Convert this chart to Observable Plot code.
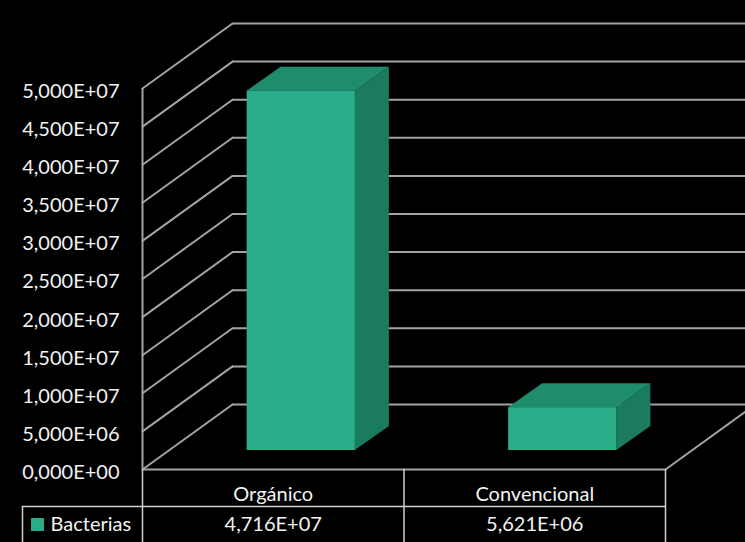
<!DOCTYPE html>
<html>
<head>
<meta charset="utf-8">
<script src="https://cdn.jsdelivr.net/npm/d3@7"></script>
<script src="https://cdn.jsdelivr.net/npm/@observablehq/plot@0.6"></script>
<style>
  html, body { margin: 0; padding: 0; background: #000; }
  #chart { width: 745px; height: 542px; overflow: hidden; }
</style>
</head>
<body>
<div id="chart"></div>
<script>
// ---- data ----
const categories = ["Orgánico", "Convencional"];
const seriesName = "Bacterias";
const values = [4.716e7, 5.621e6];
const valueLabels = ["4,716E+07", "5,621E+06"];
const yTicks = [0, 5e6, 1e7, 1.5e7, 2e7, 2.5e7, 3e7, 3.5e7, 4e7, 4.5e7, 5e7];
const yTickLabels = ["0,000E+00", "5,000E+06", "1,000E+07", "1,500E+07", "2,000E+07",
  "2,500E+07", "3,000E+07", "3,500E+07", "4,000E+07", "4,500E+07", "5,000E+07"];

const rows = categories.map((c, i) => ({cat: c, idx: i, value: values[i], label: valueLabels[i]}));

// ---- style ----
const FRONT = "#2aae8a", TOP = "#1f8c6d", SIDE = "#1b7b5f";
const GRID = "#a3a3a3", TABLE = "#d2d2d2", TEXT = "#f2f2f2";
const WALL_DX = 90, WALL_DY = -65;              // depth of the 3D walls (px)
const WALL_LEN = Math.hypot(WALL_DX, WALL_DY);
const WALL_ROT = Math.atan2(WALL_DX, -WALL_DY) * 180 / Math.PI;
const BAR_DX = 28, BAR_DY = -19;                 // bar placed inside depth
const BAR_DEPTH_X = 34, BAR_DEPTH_Y = -24;        // bar thickness
const BAR_HALF = 0.207;                           // half bar width in band units
const FONT = "Lato, 'Open Sans', sans-serif";
const FS = 20;
const GW = 2;

const lineShape = {draw(ctx, l) { ctx.moveTo(0, 0); ctx.lineTo(0, -l); }};

function bar3d(index, scales, vals, dims, context, next) {
  const g = next(index, scales, vals, dims, context);
  const sel = d3.select(g);
  for (const i of index) {
    const l = Math.min(vals.x1[i], vals.x2[i]), r = Math.max(vals.x1[i], vals.x2[i]);
    const t = Math.min(vals.y1[i], vals.y2[i]), b = Math.max(vals.y1[i], vals.y2[i]);
    const pts = (a) => a.map(p => p.join(",")).join(" ");
    sel.insert("polygon", ":first-child")
      .attr("fill", TOP)
      .attr("points", pts([[l, t], [r, t], [r + BAR_DEPTH_X, t + BAR_DEPTH_Y], [l + BAR_DEPTH_X, t + BAR_DEPTH_Y]]));
    sel.insert("polygon", ":first-child")
      .attr("fill", SIDE)
      .attr("points", pts([[r, t], [r + BAR_DEPTH_X, t + BAR_DEPTH_Y], [r + BAR_DEPTH_X, b + BAR_DEPTH_Y], [r, b]]));
  }
  return g;
}

const plot = Plot.plot({
  width: 745,
  height: 542,
  marginLeft: 142,
  marginRight: 80,
  marginTop: 88,
  marginBottom: 73,
  style: {background: "#000", fontFamily: FONT, fontSize: FS + "px", color: TEXT},
  x: {type: "linear", domain: [0, 2], axis: null},
  y: {type: "linear", domain: [0, 5e7], axis: null},
  marks: [
    // back wall gridlines
    Plot.ruleY(yTicks, {y: d => d, x1: 0, x2: 2.6, dx: WALL_DX, dy: WALL_DY, stroke: GRID, strokeWidth: GW}),
    // side wall diagonals
    Plot.vector(yTicks, {x: 0, y: d => d, length: WALL_LEN, rotate: WALL_ROT, anchor: "start",
      shape: lineShape, stroke: GRID, strokeWidth: GW}),
    // floor right diagonal
    Plot.vector([0], {x: 2, y: 0, length: WALL_LEN, rotate: WALL_ROT, anchor: "start",
      shape: lineShape, stroke: GRID, strokeWidth: GW}),
    // front-left vertical axis edge
    Plot.ruleX([0], {x: 0, y1: 0, y2: 5e7, stroke: GRID, strokeWidth: GW}),
    // floor front edge / table top
    Plot.ruleY([0], {y: 0, x1: 0, x2: 2, stroke: GRID, strokeWidth: 2.2}),
    // bars (front face + top + side)
    Plot.rect(rows, {x1: d => d.idx + 0.5 - BAR_HALF, x2: d => d.idx + 0.5 + BAR_HALF, y1: 0, y2: "value",
      fill: FRONT, dx: BAR_DX, dy: BAR_DY, render: bar3d}),
    // y tick labels
    Plot.text(yTicks, {x: 0, y: d => d, text: (d, i) => yTickLabels[i], textAnchor: "end", dx: -23, dy: 3,
      fill: TEXT, fontSize: FS}),
    // table vertical lines
    Plot.vector([0, 1, 2], {x: d => d, y: 0, length: 74, rotate: 180, anchor: "start",
      shape: lineShape, stroke: TABLE, strokeWidth: 1.5}),
    // table horizontal line
    Plot.vector([0], {x: 2, y: 0, dy: 37, length: 643, rotate: -90, anchor: "start",
      shape: lineShape, stroke: TABLE, strokeWidth: 1.5}),
    // table left border
    Plot.vector([0], {x: 0, y: 0, dx: -120, dy: 37, length: 37, rotate: 180, anchor: "start",
      shape: lineShape, stroke: TABLE, strokeWidth: 1.5}),
    // category header
    Plot.text(rows, {x: d => d.idx + 0.5, y: 0, text: "cat", dy: 25, fill: TEXT, fontSize: FS}),
    // values row
    Plot.text(rows, {x: d => d.idx + 0.5, y: 0, text: "label", dy: 55, fill: TEXT, fontSize: FS}),
    // legend key
    Plot.dot([seriesName], {x: 0, y: 0, dx: -105, dy: 55, symbol: "square", r: 7.3, fill: FRONT, stroke: null}),
    Plot.text([seriesName], {x: 0, y: 0, dx: -92, dy: 55, text: d => d, textAnchor: "start", fill: TEXT, fontSize: FS})
  ]
});
document.getElementById("chart").appendChild(plot);
</script>
</body>
</html>
